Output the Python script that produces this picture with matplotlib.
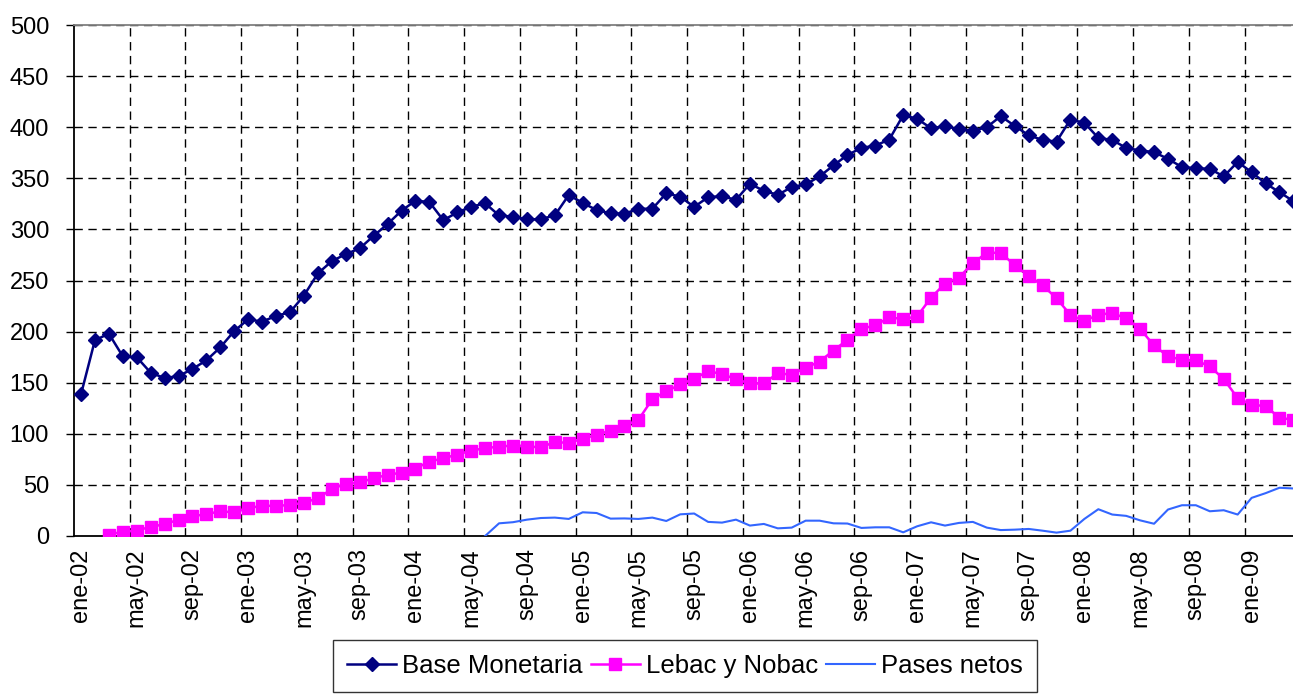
import numpy as np
import matplotlib
matplotlib.use("Agg")
import matplotlib.pyplot as plt

nan = np.nan

months = ["ene", "feb", "mar", "abr", "may", "jun", "jul", "ago", "sep", "oct", "nov", "dic"]
years = ["02", "03", "04", "05", "06", "07", "08", "09"]

base_monetaria = [
    138.5, 191.5, 198, 175.8, 175, 159.8, 154.5, 156.5, 163.4, 171.9, 184.6,
    200.6, 212, 209.8, 215.3, 219, 235.3, 257, 268.9, 275.8, 281.4, 293.7,
    305.2, 318.3, 328, 326.8, 309, 316.6, 322.2, 325.5, 313.7, 312.4, 309.8,
    310, 313.7, 333.6, 326, 318.9, 315.7, 315.3, 320.2, 320.2, 335.3, 332,
    322, 331.5, 332.5, 328.9, 344.6, 337.8, 333.8, 341.4, 344, 351.8, 362.7,
    372.8, 379.7, 382, 387.9, 411.8, 408.2, 399, 401, 398, 396.4, 400,
    410.8, 401.3, 392.1, 387.5, 385.9, 407.5, 404.3, 389.5, 387.5, 379.7,
    377.2, 375.6, 369, 361, 359.7, 359.3, 351.8, 366, 356, 345, 336.4, 327.6,
]

lebac_nobac = [
    nan, nan, 1.3, 4.2, 5.2, 9.1, 11.4, 16, 19.2, 21.5, 24.1,
    23.2, 27.1, 29.7, 29.4, 30.4, 32.6, 36.9, 46, 51, 52.5, 56.5,
    59.8, 62, 66, 72.8, 76, 79.7, 83.6, 85.9, 87.5, 88.5, 87.5,
    86.9, 91.8, 91.2, 95.1, 99, 103.2, 107.8, 113.7, 133.9, 141.5, 148.3,
    154, 161.2, 158.6, 153.3, 149.4, 149.4, 159.2, 157.9, 164.5, 170.7, 181.5,
    192, 202.8, 206.1, 213.9, 212.3, 214.9, 233.3, 247, 252.9, 267, 277.1,
    277.1, 265, 254.6, 245.4, 232.6, 216.3, 210.4, 216.5, 218.2, 212.9,
    202.6, 186.4, 175.8, 172.5, 171.8, 166, 153.5, 135, 128.4, 127.1, 115.7, 113.7,
]

pases_netos = [nan] * 29 + [
    0, 12.4, 13.5, 16, 17.6, 18, 16.7, 23.2, 22.5, 17, 17.2, 16.7, 18, 14.7, 21.2,
    22, 13.8, 13.1, 16, 10.2, 11.8, 7.5, 8.2, 15, 15, 12.4,
    12.2, 7.9, 8.5, 8.5, 3.6, 9.5, 13.4, 10.2, 12.8, 13.8, 8.2,
    5.8, 6.2, 6.9, 5.2, 3.3, 5.2, 16.7, 26.2, 21, 19.7,
    15.3, 12, 25.9, 30.1, 30.1, 24.2, 25.2, 21, 37.3, 41.9, 47.2, 46.5,
]

n = len(base_monetaria)
categories = [f"{months[i % 12]}-{years[i // 12]}" for i in range(n)]

plt.rcParams['font.family'] = ['Liberation Sans', 'DejaVu Sans']

W, H = 1293, 695
fig = plt.figure(figsize=(W / 100, H / 100), dpi=100)
ax = fig.add_axes([74 / W, (H - 536) / H, (W - 74) / W, 511 / H])

x = np.arange(n)
ax.plot(x, base_monetaria, color="#000080", lw=1.8, marker="D", markersize=6.8,
        markeredgecolor="#000080", markerfacecolor="#000080", label="Base Monetaria", zorder=4)
ax.plot(x, lebac_nobac, color="#FF00FF", lw=1.8, marker="s", markersize=8,
        markeredgecolor="#FF00FF", markerfacecolor="#FF00FF", label="Lebac y Nobac", zorder=3)
ax.plot(x, pases_netos, color="#3366FF", lw=1.5, label="Pases netos", zorder=3)

ax.set_ylim(0, 500)
ax.set_yticks(np.arange(0, 501, 50))
ax.set_xlim(-0.5, 86.97)

tick_idx = list(range(0, n, 4))
ax.set_xticks(tick_idx)
ax.set_xticklabels([categories[i] for i in tick_idx], rotation=90, fontsize=17)
ax.tick_params(axis="x", length=0, pad=9)
ax.tick_params(axis="y", labelsize=17, length=6, width=1, direction="out", pad=12)

# grid
for v in np.arange(50, 501, 50):
    ax.axhline(v, color="black", lw=1, ls=(0, (6, 4)), zorder=1)
for b in np.arange(3.5, n, 4):
    ax.axvline(b, color="black", lw=1, ls=(0, (6, 4)), zorder=1)

for s in ["left", "bottom"]:
    ax.spines[s].set_color("black")
    ax.spines[s].set_linewidth(1.3)
ax.spines["top"].set_color("#808080")
ax.spines["top"].set_linewidth(1.3)
ax.spines["right"].set_visible(False)

leg = fig.legend(loc="upper center", bbox_to_anchor=(685 / W, 1 - 640 / H), ncol=3,
                 fontsize=18.5, frameon=True, fancybox=False, edgecolor="black",
                 handlelength=1.9, columnspacing=0.3, handletextpad=0.25,
                 borderpad=0.55, borderaxespad=0)
leg.get_frame().set_linewidth(1)

fig.savefig("out.png", dpi=100)
